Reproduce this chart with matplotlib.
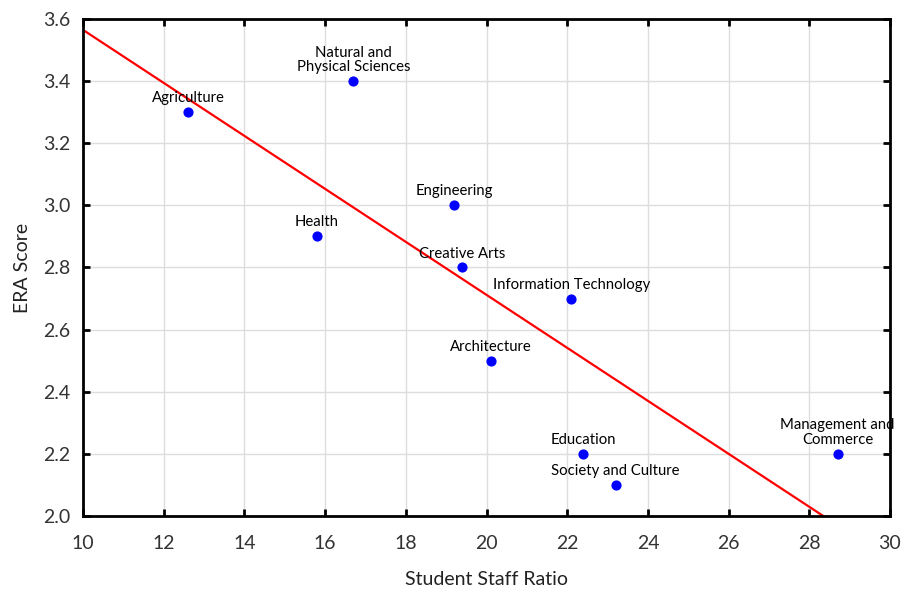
import matplotlib
matplotlib.use("Agg")
import matplotlib.pyplot as plt
import numpy as np

plt.rcParams['font.family'] = ['Lato', 'DejaVu Sans']

labels = ["Agriculture", "Natural and\nPhysical Sciences", "Health", "Engineering",
          "Creative Arts", "Information Technology", "Architecture", "Education",
          "Society and Culture", "Management and\nCommerce"]
ssr = [12.6, 16.7, 15.8, 19.2, 19.4, 22.1, 20.1, 22.4, 23.2, 28.7]
era = [3.3, 3.4, 2.9, 3.0, 2.8, 2.7, 2.5, 2.2, 2.1, 2.2]

fig = plt.figure(figsize=(9.03, 5.9), dpi=100)
ax = fig.add_axes([0.092, 0.1254, 0.8936, 0.8426])

ax.set_xlim(10, 30)
ax.set_ylim(2.0, 3.6)
ax.set_xticks(np.arange(10, 31, 2))
ax.set_yticks(np.arange(2.0, 3.61, 0.2))
ax.set_yticklabels([f"{v:.1f}" for v in np.arange(2.0, 3.61, 0.2)])
ax.grid(True, color='#dddddd', linewidth=1)
ax.set_axisbelow(True)
for s in ax.spines.values():
    s.set_linewidth(2)
    s.set_color('black')
ax.tick_params(direction='in', top=True, right=True, length=5, width=2,
               labelsize=14, labelcolor='#333333')
ax.tick_params(axis='x', pad=14)
ax.tick_params(axis='y', pad=9)

slope, intercept = np.polyfit(ssr, era, 1)
xs = np.array([10, 30])
ax.plot(xs, slope * xs + intercept, color='red', linewidth=1.6, zorder=2)

ax.scatter(ssr, era, s=40, color='blue', zorder=3)
for lab, x, y in zip(labels, ssr, era):
    ax.annotate(lab, (x, y), xytext=(0, 5), textcoords='offset points',
                ha='center', va='bottom', fontsize=10.7, color='black',
                linespacing=1.05)

ax.set_xlabel("Student Staff Ratio", fontsize=14, color='#222222', labelpad=13)
ax.set_ylabel("ERA Score", fontsize=14, color='#222222', labelpad=9)

fig.savefig("out.png", dpi=100)
